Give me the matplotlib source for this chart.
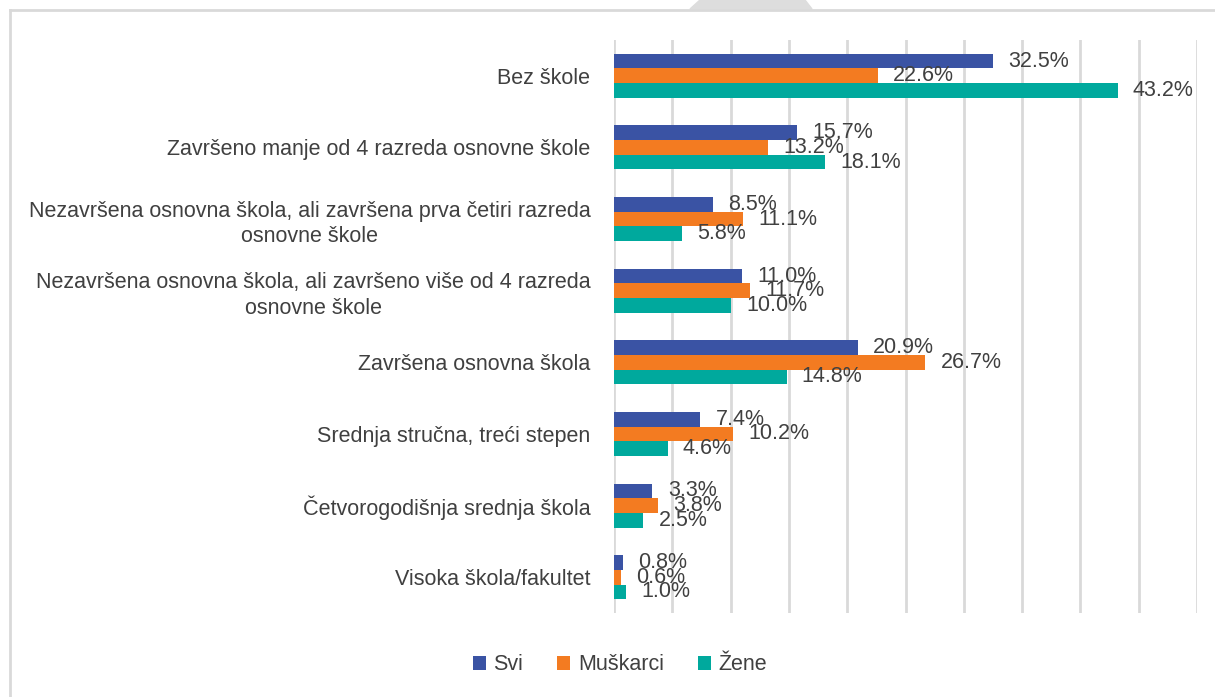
import numpy as np
import matplotlib.pyplot as plt
from matplotlib.patches import Polygon
from matplotlib.lines import Line2D

categories = [
    "Bez škole",
    "Završeno manje od 4 razreda osnovne škole",
    "Nezavršena osnovna škola, ali završena prva četiri razreda\nosnovne škole",
    "Nezavršena osnovna škola, ali završeno više od 4 razreda\nosnovne škole",
    "Završena osnovna škola",
    "Srednja stručna, treći stepen",
    "Četvorogodišnja srednja škola",
    "Visoka škola/fakultet",
]
svi = [32.5, 15.7, 8.5, 11.0, 20.9, 7.4, 3.3, 0.8]
muskarci = [22.6, 13.2, 11.1, 11.7, 26.7, 10.2, 3.8, 0.6]
zene = [43.2, 18.1, 5.8, 10.0, 14.8, 4.6, 2.5, 1.0]
series = ["Svi", "Muškarci", "Žene"]
colors = ["#3A53A4", "#F37B21", "#00A99D"]

plt.rcParams["font.family"] = ["Liberation Sans", "DejaVu Sans"]
text_color = "#404040"

fig = plt.figure(figsize=(12.15, 6.97), dpi=100)
ax = fig.add_axes([614 / 1215, 1 - 613 / 697, (1197 - 614) / 1215, (613 - 40) / 697])

y = np.arange(len(categories))
h = 0.205
for i, (vals, name, c) in enumerate(zip([svi, muskarci, zene], series, colors)):
    pos = y + (i - 1) * h
    ax.barh(pos, vals, height=h, color=c, label=name, zorder=3)
    for p, v in zip(pos, vals):
        ax.annotate(f"{v:.1f}%", (v, p), xytext=(11, 0), textcoords="offset points",
                    va="center", ha="left", fontsize=15.5, color=text_color, zorder=4)

ax.set_xlim(0, 50)
ax.set_ylim(len(categories) - 0.5, -0.5)
ax.set_xticks(np.arange(0, 51, 5))
ax.set_xticklabels([])
ax.tick_params(axis="x", length=0)
ax.tick_params(axis="y", length=0, pad=17)
ax.set_yticks(y)
ax.set_yticklabels(categories, fontsize=15.5, color=text_color, ha="right",
                   multialignment="center", linespacing=1.3)
ax.grid(axis="x", color="#D9D9D9", linewidth=2, zorder=0)
for s in ax.spines.values():
    s.set_visible(False)

fig.legend(loc="center", bbox_to_anchor=(620 / 1215, 1 - 665 / 697), ncol=3, frameon=False,
           fontsize=15.5, handlelength=0.6, handleheight=0.6, handletextpad=0.35,
           columnspacing=1.6, labelcolor=text_color)

# outer frame (left and top edges visible)
fig.add_artist(Line2D([10 / 1215, 10 / 1215], [0, 1 - 10 / 697], color="#D9D9D9", linewidth=2))
fig.add_artist(Line2D([10 / 1215, 1], [1 - 10 / 697, 1 - 10 / 697], color="#D9D9D9", linewidth=2))
# grey tab at the top
fig.add_artist(Polygon([[690 / 1215, 1 - 9 / 697], [700 / 1215, 1], [805 / 1215, 1], [812 / 1215, 1 - 9 / 697]],
                       closed=True, color="#DDDDDD", transform=fig.transFigure))

fig.savefig("out.png", dpi=100)
